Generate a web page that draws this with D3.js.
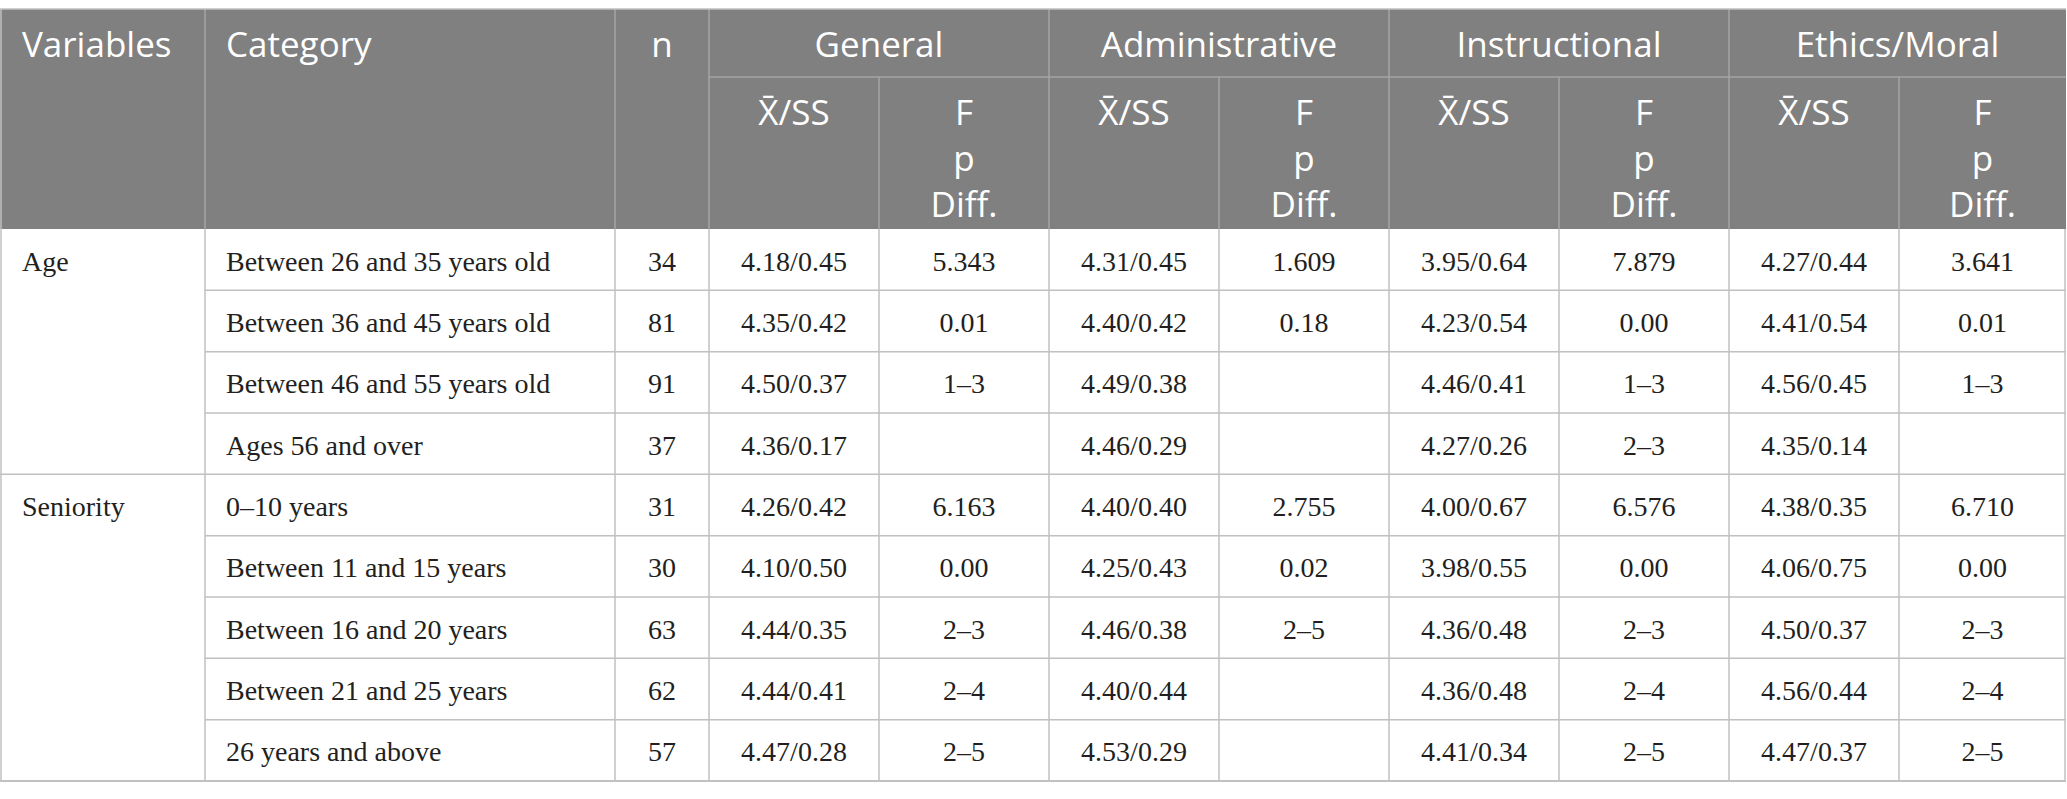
<!DOCTYPE html>
<html>
<head>
<meta charset="utf-8">
<script src="https://cdn.jsdelivr.net/npm/d3@7"></script>
<style>
  body { margin: 0; background: #fff; }
  svg { display: block; }
</style>
</head>
<body>
<div id="container"></div>
<script>
// Table data, one small array per column
const dimensions = ["General", "Administrative", "Instructional", "Ethics/Moral"];
const variables = ["Age", "Seniority"];
const variableSizes = [4, 5];
const categories = [
	"Between 26 and 35 years old", "Between 36 and 45 years old", "Between 46 and 55 years old", "Ages 56 and over",
	"0\u201310 years", "Between 11 and 15 years", "Between 16 and 20 years", "Between 21 and 25 years", "26 years and above"
];
const nValues = [34, 81, 91, 37, 31, 30, 63, 62, 57];

const generalMean = [4.18, 4.35, 4.50, 4.36, 4.26, 4.10, 4.44, 4.44, 4.47];
const generalSD = [0.45, 0.42, 0.37, 0.17, 0.42, 0.50, 0.35, 0.41, 0.28];
const generalStat = ["5.343", "0.01", "1\u20133", "", "6.163", "0.00", "2\u20133", "2\u20134", "2\u20135"];

const adminMean = [4.31, 4.40, 4.49, 4.46, 4.40, 4.25, 4.46, 4.40, 4.53];
const adminSD = [0.45, 0.42, 0.38, 0.29, 0.40, 0.43, 0.38, 0.44, 0.29];
const adminStat = ["1.609", "0.18", "", "", "2.755", "0.02", "2\u20135", "", ""];

const instrMean = [3.95, 4.23, 4.46, 4.27, 4.00, 3.98, 4.36, 4.36, 4.41];
const instrSD = [0.64, 0.54, 0.41, 0.26, 0.67, 0.55, 0.48, 0.48, 0.34];
const instrStat = ["7.879", "0.00", "1\u20133", "2\u20133", "6.576", "0.00", "2\u20133", "2\u20134", "2\u20135"];

const ethicsMean = [4.27, 4.41, 4.56, 4.35, 4.38, 4.06, 4.50, 4.56, 4.47];
const ethicsSD = [0.44, 0.54, 0.45, 0.14, 0.35, 0.75, 0.37, 0.44, 0.37];
const ethicsStat = ["3.641", "0.01", "1\u20133", "", "6.710", "0.00", "2\u20133", "2\u20134", "2\u20135"];

function main() {
	const width = 2067, height = 799;

	// layout
	const top = 9, head1 = 77, head2 = 229, bottom = 781;
	const colWidths = [205, 410, 94, 170, 170, 170, 170, 170, 170, 170, 167];
	const edges = [0].concat(Array.from(d3.cumsum(colWidths)));
	const right = edges[edges.length - 1];

	const headFill = "#7f807f", headLine = "#a4a5a4", bodyLine = "#c0c0c0";
	const sans = "'Open Sans', sans-serif", serif = "'Liberation Serif', 'Times New Roman', serif";

	const fmt = d3.format(".2f");
	const cells = [
		generalMean.map((m, i) => fmt(m) + "/" + fmt(generalSD[i])), generalStat,
		adminMean.map((m, i) => fmt(m) + "/" + fmt(adminSD[i])), adminStat,
		instrMean.map((m, i) => fmt(m) + "/" + fmt(instrSD[i])), instrStat,
		ethicsMean.map((m, i) => fmt(m) + "/" + fmt(ethicsSD[i])), ethicsStat
	];

	const y = d3.scaleBand()
		.domain(d3.range(categories.length))
		.range([head2, bottom]);

	const svg = d3.create("svg")
		.attr("width", width)
		.attr("height", height);

	// Header background
	svg.append("rect")
		.attr("x", 0).attr("y", top)
		.attr("width", right).attr("height", head2 - top)
		.attr("fill", headFill);

	const hl = svg.append("g").attr("stroke", headLine).attr("stroke-width", 1.5);
	// full height header separators
	[1, 2, 3, 5, 7, 9].forEach(c => {
		hl.append("line").attr("x1", edges[c]).attr("x2", edges[c]).attr("y1", top).attr("y2", head2);
	});
	// sub column separators (second header row only)
	[4, 6, 8, 10].forEach(c => {
		hl.append("line").attr("x1", edges[c]).attr("x2", edges[c]).attr("y1", head1).attr("y2", head2);
	});
	hl.append("line").attr("x1", edges[3]).attr("x2", right).attr("y1", head1).attr("y2", head1);

	// Header text
	const ht = svg.append("g")
		.attr("fill", "#fff")
		.attr("font-family", sans)
		.attr("font-size", 35);
	ht.append("text").attr("x", 22).attr("y", 57).text("Variables");
	ht.append("text").attr("x", edges[1] + 21).attr("y", 57).text("Category");
	ht.append("text").attr("x", (edges[2] + edges[3]) / 2).attr("y", 57).attr("text-anchor", "middle").text("n");
	dimensions.forEach((d, i) => {
		const x0 = edges[3 + i * 2], x1 = edges[5 + i * 2];
		ht.append("text").attr("x", (x0 + x1) / 2).attr("y", 57).attr("text-anchor", "middle").text(d);
		ht.append("text").attr("x", (x0 + edges[4 + i * 2]) / 2).attr("y", 125).attr("text-anchor", "middle").text("X\u0304/SS");
		["F", "p", "Diff."].forEach((s, k) => {
			ht.append("text").attr("x", (edges[4 + i * 2] + x1) / 2).attr("y", 125 + k * 46)
				.attr("text-anchor", "middle").text(s);
		});
	});

	// Body grid
	const bl = svg.append("g").attr("stroke", bodyLine).attr("stroke-width", 1.5).attr("fill", "none");
	categories.forEach((c, i) => {
		bl.append("line").attr("x1", edges[1]).attr("x2", right)
			.attr("y1", y(i) + y.bandwidth()).attr("y2", y(i) + y.bandwidth());
	});
	let start = 0;
	variableSizes.forEach((s, g) => {
		start += s;
		bl.append("line").attr("x1", 0).attr("x2", edges[1])
			.attr("y1", y(start - 1) + y.bandwidth()).attr("y2", y(start - 1) + y.bandwidth());
	});
	edges.forEach((e, c) => {
		if (c === 0) return;
		bl.append("line").attr("x1", Math.min(e, right - 1)).attr("x2", Math.min(e, right - 1))
			.attr("y1", head2).attr("y2", bottom);
	});
	bl.append("line").attr("x1", 1).attr("x2", 1).attr("y1", top).attr("y2", bottom);
	bl.append("line").attr("x1", 0).attr("x2", right).attr("y1", top).attr("y2", top);
	bl.append("line").attr("x1", 0).attr("x2", right).attr("y1", bottom).attr("y2", bottom).attr("stroke-width", 2);

	// Body text
	const bt = svg.append("g")
		.attr("fill", "#231f20")
		.attr("font-family", serif)
		.attr("font-size", 28);
	start = 0;
	variables.forEach((v, g) => {
		bt.append("text").attr("x", 22).attr("y", y(start) + 41.5).text(v);
		start += variableSizes[g];
	});
	bt.selectAll(".cat")
		.data(categories)
		.join("text")
		.attr("x", edges[1] + 21)
		.attr("y", (d, i) => y(i) + 41.5)
		.text(d => d);
	bt.selectAll(".n")
		.data(nValues)
		.join("text")
		.attr("x", (edges[2] + edges[3]) / 2)
		.attr("y", (d, i) => y(i) + 41.5)
		.attr("text-anchor", "middle")
		.text(d => d);
	cells.forEach((col, c) => {
		const cx = (edges[3 + c] + edges[4 + c]) / 2;
		bt.append("g").selectAll("text")
			.data(col)
			.join("text")
			.attr("x", cx)
			.attr("y", (d, i) => y(i) + 41.5)
			.attr("text-anchor", "middle")
			.text(d => d);
	});

	document.getElementById("container").append(svg.node());
}

main();
</script>
</body>
</html>
